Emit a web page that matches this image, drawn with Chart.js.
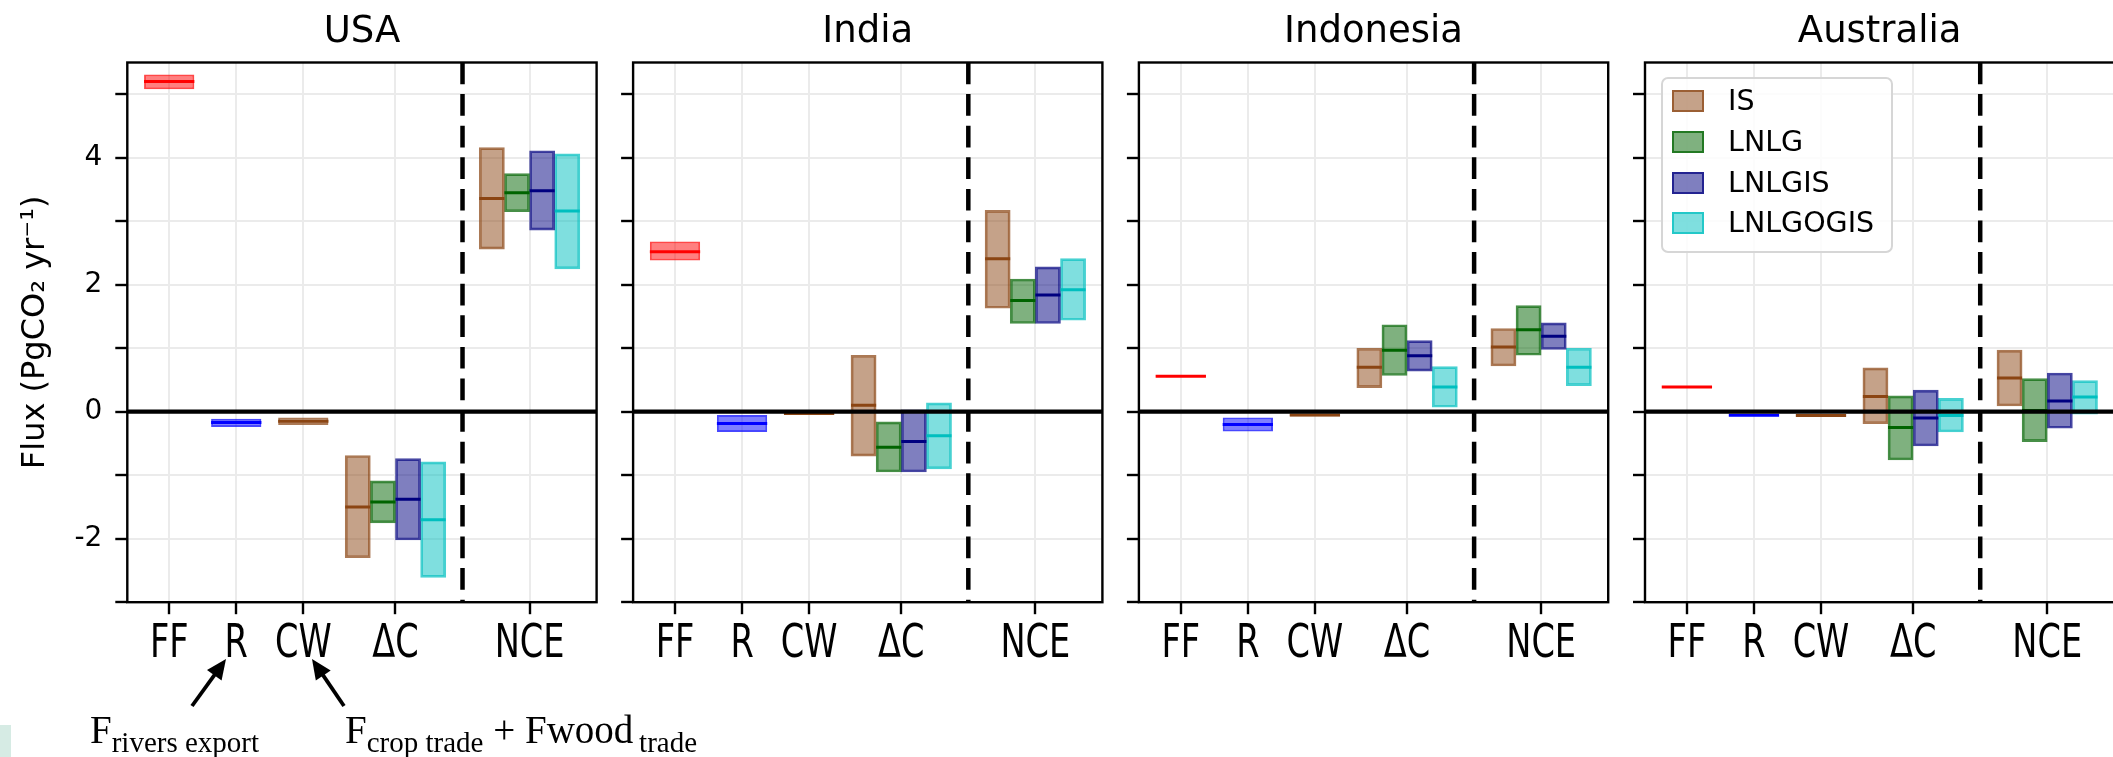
<!DOCTYPE html>
<html>
<head>
<meta charset="utf-8">
<script src="https://cdn.jsdelivr.net/npm/chart.js@4.4.1/dist/chart.umd.min.js"></script>
<style>
  html, body { margin: 0; padding: 0; background: #fff; overflow: hidden; width: 2113px; height: 757px; }
  #stage { position: relative; width: 2113px; height: 757px; overflow: hidden; }
  #stage canvas { position: absolute; top: 0; }
  #legend { position: absolute; left: 1661px; top: 77px; width: 228px; height: 172px;
            border: 2.3px solid #d6d6d6; border-radius: 7px; background: rgba(255,255,255,0.85);
            font-family: 'DejaVu Sans', sans-serif; font-size: 28.5px; color: #000; }
  #legend .patch { position: absolute; left: 9px; width: 28px; height: 18px; border: 2px solid; }
  #legend .lab { position: absolute; left: 65px; line-height: 34px; height: 34px; white-space: nowrap; }
  #notes { position: absolute; left: 0; top: 0; pointer-events: none; }
  #swatch { position: absolute; left: 0; top: 725px; width: 11px; height: 32px; background: #d6ebe4; }
</style>
</head>
<body>
<div id="stage">
  <canvas id="p0"></canvas>
  <canvas id="p1"></canvas>
  <canvas id="p2"></canvas>
  <canvas id="p3"></canvas>
  <div id="legend"></div>
  <svg id="notes" width="2113" height="757" xmlns="http://www.w3.org/2000/svg"></svg>
  <div id="swatch"></div>
</div>
<script>
// ---------------- data ----------------
const COUNTRIES  = ['USA', 'India', 'Indonesia', 'Australia'];
const COMPONENTS = ['FF', 'R', 'CW', 'ΔC', 'NCE'];
const INVERSIONS = ['IS', 'LNLG', 'LNLGIS', 'LNLGOGIS'];
const Y_LABELLED = [-2, 0, 2, 4];

// inventory-based fluxes, one [low, median, high] per country (PgCO2/yr)
const FF        = [[5.08, 5.20, 5.31], [2.38, 2.52, 2.68], [0.55, 0.56, 0.575], [0.38, 0.39, 0.40]];
const RIVERS    = [[-0.24, -0.17, -0.11], [-0.32, -0.185, -0.05], [-0.31, -0.20, -0.09], [-0.07, -0.055, -0.045]];
const CROP_WOOD = [[-0.21, -0.15, -0.09], [-0.045, -0.03, -0.015], [-0.075, -0.05, -0.03], [-0.075, -0.06, -0.045]];

// carbon stock change per inversion, [low, median, high] per country
const DC_IS       = [[-2.30, -1.50, -0.69], [-0.70, 0.10, 0.89], [0.38, 0.70, 1.00], [-0.19, 0.24, 0.69]];
const DC_LNLG     = [[-1.75, -1.42, -1.09], [-0.95, -0.56, -0.16], [0.57, 0.97, 1.37], [-0.76, -0.25, 0.25]];
const DC_LNLGIS   = [[-2.02, -1.38, -0.74], [-0.95, -0.47, 0.03], [0.64, 0.88, 1.12], [-0.54, -0.10, 0.34]];
const DC_LNLGOGIS = [[-2.61, -1.70, -0.79], [-0.90, -0.38, 0.14], [0.07, 0.39, 0.71], [-0.32, -0.06, 0.21]];

// net carbon exchange per inversion, [low, median, high] per country
const NCE_IS       = [[2.56, 3.36, 4.16], [1.63, 2.41, 3.17], [0.72, 1.02, 1.31], [0.09, 0.53, 0.97]];
const NCE_LNLG     = [[3.15, 3.45, 3.75], [1.39, 1.75, 2.09], [0.89, 1.29, 1.67], [-0.47, 0.02, 0.52]];
const NCE_LNLGIS   = [[2.86, 3.48, 4.11], [1.39, 1.84, 2.28], [0.98, 1.19, 1.40], [-0.26, 0.17, 0.61]];
const NCE_LNLGOGIS = [[2.25, 3.16, 4.06], [1.44, 1.92, 2.41], [0.41, 0.70, 1.00], [-0.04, 0.23, 0.49]];

// ---------------- layout & style ----------------
const X_POS   = [0, 1, 2, 3.375, 5.375];   // FF, R, CW, ΔC, NCE
const DIVIDER = 4.375;
const X_MIN = -0.625, X_MAX = 6.375;
const Y_MIN = -3, Y_MAX = 5.5;
const BOX_W = 0.375;
const GROUP_OFFSETS = [-1.5, -0.5, 0.5, 1.5];

const PANEL_LEFT  = [127.3, 633.1, 1138.9, 1645.0];
const PANEL_W     = 469.3;
const PLOT_TOP    = 62.5;
const PLOT_BOTTOM = 602.2;
const CANVAS_H    = 757;
const LABEL_BASELINE = 657;

const GRID = '#ebebeb';
const INV_RGB   = [[139, 69, 19], [0, 100, 0], [0, 0, 128], [0, 191, 191]];
const INV_SOLID = ['#8B4513', '#006400', '#000080', '#00BFBF'];
const INV_DC  = [DC_IS, DC_LNLG, DC_LNLGIS, DC_LNLGOGIS];
const INV_NCE = [NCE_IS, NCE_LNLG, NCE_LNLGIS, NCE_LNLGOGIS];
const SINGLES = [
  { vals: FF,        rgb: [255, 0, 0],   solid: '#ff0000', pos: 0 },
  { vals: RIVERS,    rgb: [0, 0, 255],   solid: '#0000ff', pos: 1 },
  { vals: CROP_WOOD, rgb: [139, 69, 19], solid: '#8B4513', pos: 2 }
];

const rgba = (c, a) => `rgba(${c[0]},${c[1]},${c[2]},${a})`;

Chart.defaults.font.family = "'DejaVu Sans', sans-serif";
Chart.defaults.color = '#000';

function boxSet(points, rgb, widthFactor) {
  return {
    type: 'bar',
    data: points.map(p => ({ x: p.x, y: [p.lo, p.hi] })),
    backgroundColor: rgba(rgb, 0.5),
    borderColor: rgba(rgb, 0.72),
    borderWidth: 2,
    borderSkipped: false,
    grouped: false,
    categoryPercentage: 1,
    barPercentage: widthFactor,
    order: 2
  };
}

function medianSet(points, color, halfW) {
  const data = [];
  points.forEach(p => {
    data.push({ x: p.x - halfW, y: p.med }, { x: p.x + halfW, y: p.med }, { x: p.x + halfW, y: null });
  });
  return { type: 'line', data, borderColor: color, borderWidth: 3, pointRadius: 0,
           spanGaps: false, fill: false, order: 1 };
}

function panelDatasets(c) {
  const ds = [];
  SINGLES.forEach(s => {
    const [lo, med, hi] = s.vals[c];
    const pts = [{ x: X_POS[s.pos], lo, med, hi }];
    ds.push(boxSet(pts, s.rgb, 2));
    ds.push(medianSet(pts, s.solid, BOX_W));
  });
  INVERSIONS.forEach((name, k) => {
    const off = GROUP_OFFSETS[k] * BOX_W;
    const pts = [INV_DC[k][c], INV_NCE[k][c]].map((v, j) => ({
      x: X_POS[3 + j] + off, lo: v[0], med: v[1], hi: v[2]
    }));
    ds.push(boxSet(pts, INV_RGB[k], 1));
    ds.push(medianSet(pts, INV_SOLID[k], BOX_W / 2));
  });
  // zero reference and the inventory / NCE divider
  ds.push({ type: 'line', data: [{ x: X_MIN, y: 0 }, { x: X_MAX, y: 0 }],
            borderColor: '#000', borderWidth: 4.2, pointRadius: 0, order: 0 });
  ds.push({ type: 'line', data: [{ x: DIVIDER, y: Y_MAX }, { x: DIVIDER, y: Y_MIN }],
            borderColor: '#000', borderWidth: 4.5, borderDash: [21.7, 9.9], pointRadius: 0, order: 0 });
  return ds;
}

// axes frame drawn above the boxes
const frame = {
  id: 'frame',
  afterDatasetsDraw(chart) {
    const { ctx, chartArea: a } = chart;
    ctx.save();
    ctx.strokeStyle = '#000';
    ctx.lineWidth = 2.4;
    ctx.strokeRect(a.left, a.top, a.right - a.left, a.bottom - a.top);
    ctx.restore();
  }
};

// narrow component names under the x ticks
const componentLabels = {
  id: 'componentLabels',
  afterDraw(chart) {
    const { ctx } = chart;
    const xs = chart.scales.x;
    ctx.save();
    ctx.fillStyle = '#000';
    ctx.font = "46px 'DejaVu Sans', sans-serif";
    ctx.textAlign = 'center';
    ctx.textBaseline = 'alphabetic';
    COMPONENTS.forEach((t, i) => {
      const px = xs.getPixelForValue(X_POS[i]);
      ctx.save();
      ctx.translate(px, LABEL_BASELINE);
      ctx.scale(0.73, 1);
      ctx.fillText(t, 0, 0);
      ctx.restore();
    });
    ctx.restore();
  }
};

COUNTRIES.forEach((country, c) => {
  const canvas = document.getElementById('p' + c);
  const left = c === 0 ? 0 : Math.floor(PANEL_LEFT[c] - 26);
  const yAxisW = PANEL_LEFT[c] - left;
  const width = Math.ceil(yAxisW + PANEL_W + 6);
  const padRight = width - yAxisW - PANEL_W;
  canvas.width = width;
  canvas.height = CANVAS_H;
  canvas.style.left = left + 'px';
  canvas.style.width = width + 'px';
  canvas.style.height = CANVAS_H + 'px';

  new Chart(canvas, {
    type: 'bar',
    data: { datasets: panelDatasets(c) },
    options: {
      responsive: false,
      animation: false,
      devicePixelRatio: 1,
      layout: { padding: { left: 0, right: padRight, top: 0, bottom: 0 } },
      plugins: {
        legend: { display: false },
        tooltip: { enabled: false },
        title: {
          display: true, text: country, fullSize: false, color: '#000',
          font: { family: "'DejaVu Sans', sans-serif", size: 37, weight: 'normal' },
          padding: { top: 10, bottom: PLOT_TOP - 10 - 37 * 1.2 }
        }
      },
      scales: {
        x: {
          type: 'linear', min: X_MIN, max: X_MAX, offset: false,
          afterBuildTicks: s => { s.ticks = X_POS.map(v => ({ value: v })); },
          ticks: { callback: () => '', autoSkip: false, maxRotation: 0, padding: 0 },
          grid: { offset: false, color: GRID, lineWidth: 2, drawTicks: true,
                  tickLength: 12, tickColor: '#000', tickWidth: 2.4 },
          border: { display: false },
          afterFit: s => { s.height = CANVAS_H - PLOT_BOTTOM; }
        },
        y: {
          type: 'linear', min: Y_MIN, max: Y_MAX,
          ticks: {
            stepSize: 1, includeBounds: false, padding: 13, color: '#000',
            font: { family: "'DejaVu Sans', sans-serif", size: 28 },
            callback: v => (c === 0 && Y_LABELLED.includes(v)) ? String(v) : ''
          },
          grid: { color: GRID, lineWidth: 2, drawTicks: true,
                  tickLength: 12, tickColor: '#000', tickWidth: 2.4 },
          border: { display: false },
          title: {
            display: c === 0, text: 'Flux (PgCO₂ yr⁻¹)', color: '#000',
            font: { family: "'DejaVu Sans', sans-serif", size: 32 },
            padding: { top: 16.8, bottom: 0 }
          },
          afterFit: s => { s.width = yAxisW; }
        }
      }
    },
    plugins: [frame, componentLabels]
  });
});

// legend of the inversion ensembles
const legend = document.getElementById('legend');
INVERSIONS.forEach((name, k) => {
  const cy = 22.4 + k * 40.6;
  const patch = document.createElement('div');
  patch.className = 'patch';
  patch.style.top = (cy - 11) + 'px';
  patch.style.background = rgba(INV_RGB[k], 0.5);
  patch.style.borderColor = rgba(INV_RGB[k], 0.72);
  const lab = document.createElement('div');
  lab.className = 'lab';
  lab.style.top = (cy - 17) + 'px';
  lab.textContent = name;
  legend.appendChild(patch);
  legend.appendChild(lab);
});

// notes under the first panel
const NS = 'http://www.w3.org/2000/svg';
const notes = document.getElementById('notes');
function arrow(x1, y1, x2, y2) {
  const dx = x2 - x1, dy = y2 - y1, len = Math.hypot(dx, dy);
  const ux = dx / len, uy = dy / len, head = 20, half = 9;
  const bx = x2 - ux * head, by = y2 - uy * head;
  const line = document.createElementNS(NS, 'line');
  line.setAttribute('x1', x1); line.setAttribute('y1', y1);
  line.setAttribute('x2', bx + ux * 2); line.setAttribute('y2', by + uy * 2);
  line.setAttribute('stroke', '#000'); line.setAttribute('stroke-width', '3.8');
  notes.appendChild(line);
  const tri = document.createElementNS(NS, 'polygon');
  tri.setAttribute('points', `${x2},${y2} ${bx - uy * half},${by + ux * half} ${bx + uy * half},${by - ux * half}`);
  tri.setAttribute('fill', '#000');
  notes.appendChild(tri);
}
arrow(192, 706, 226, 659);
arrow(344, 706, 312, 659);

function note(x, parts) {
  const t = document.createElementNS(NS, 'text');
  t.setAttribute('x', x); t.setAttribute('y', 743);
  t.setAttribute('font-family', "'Liberation Serif', serif");
  t.setAttribute('fill', '#000');
  let level = 0;
  parts.forEach(([txt, sub]) => {
    const s = document.createElementNS(NS, 'tspan');
    s.setAttribute('font-size', sub ? 29 : 39);
    const target = sub ? 9 : 0;
    s.setAttribute('dy', target - level);
    level = target;
    s.textContent = txt;
    t.appendChild(s);
  });
  notes.appendChild(t);
}
note(90, [['F', false], ['rivers export', true]]);
note(345, [['F', false], ['crop trade', true], ['\u00a0+ Fwood', false], ['\u2009trade', true]]);
</script>
</body>
</html>
